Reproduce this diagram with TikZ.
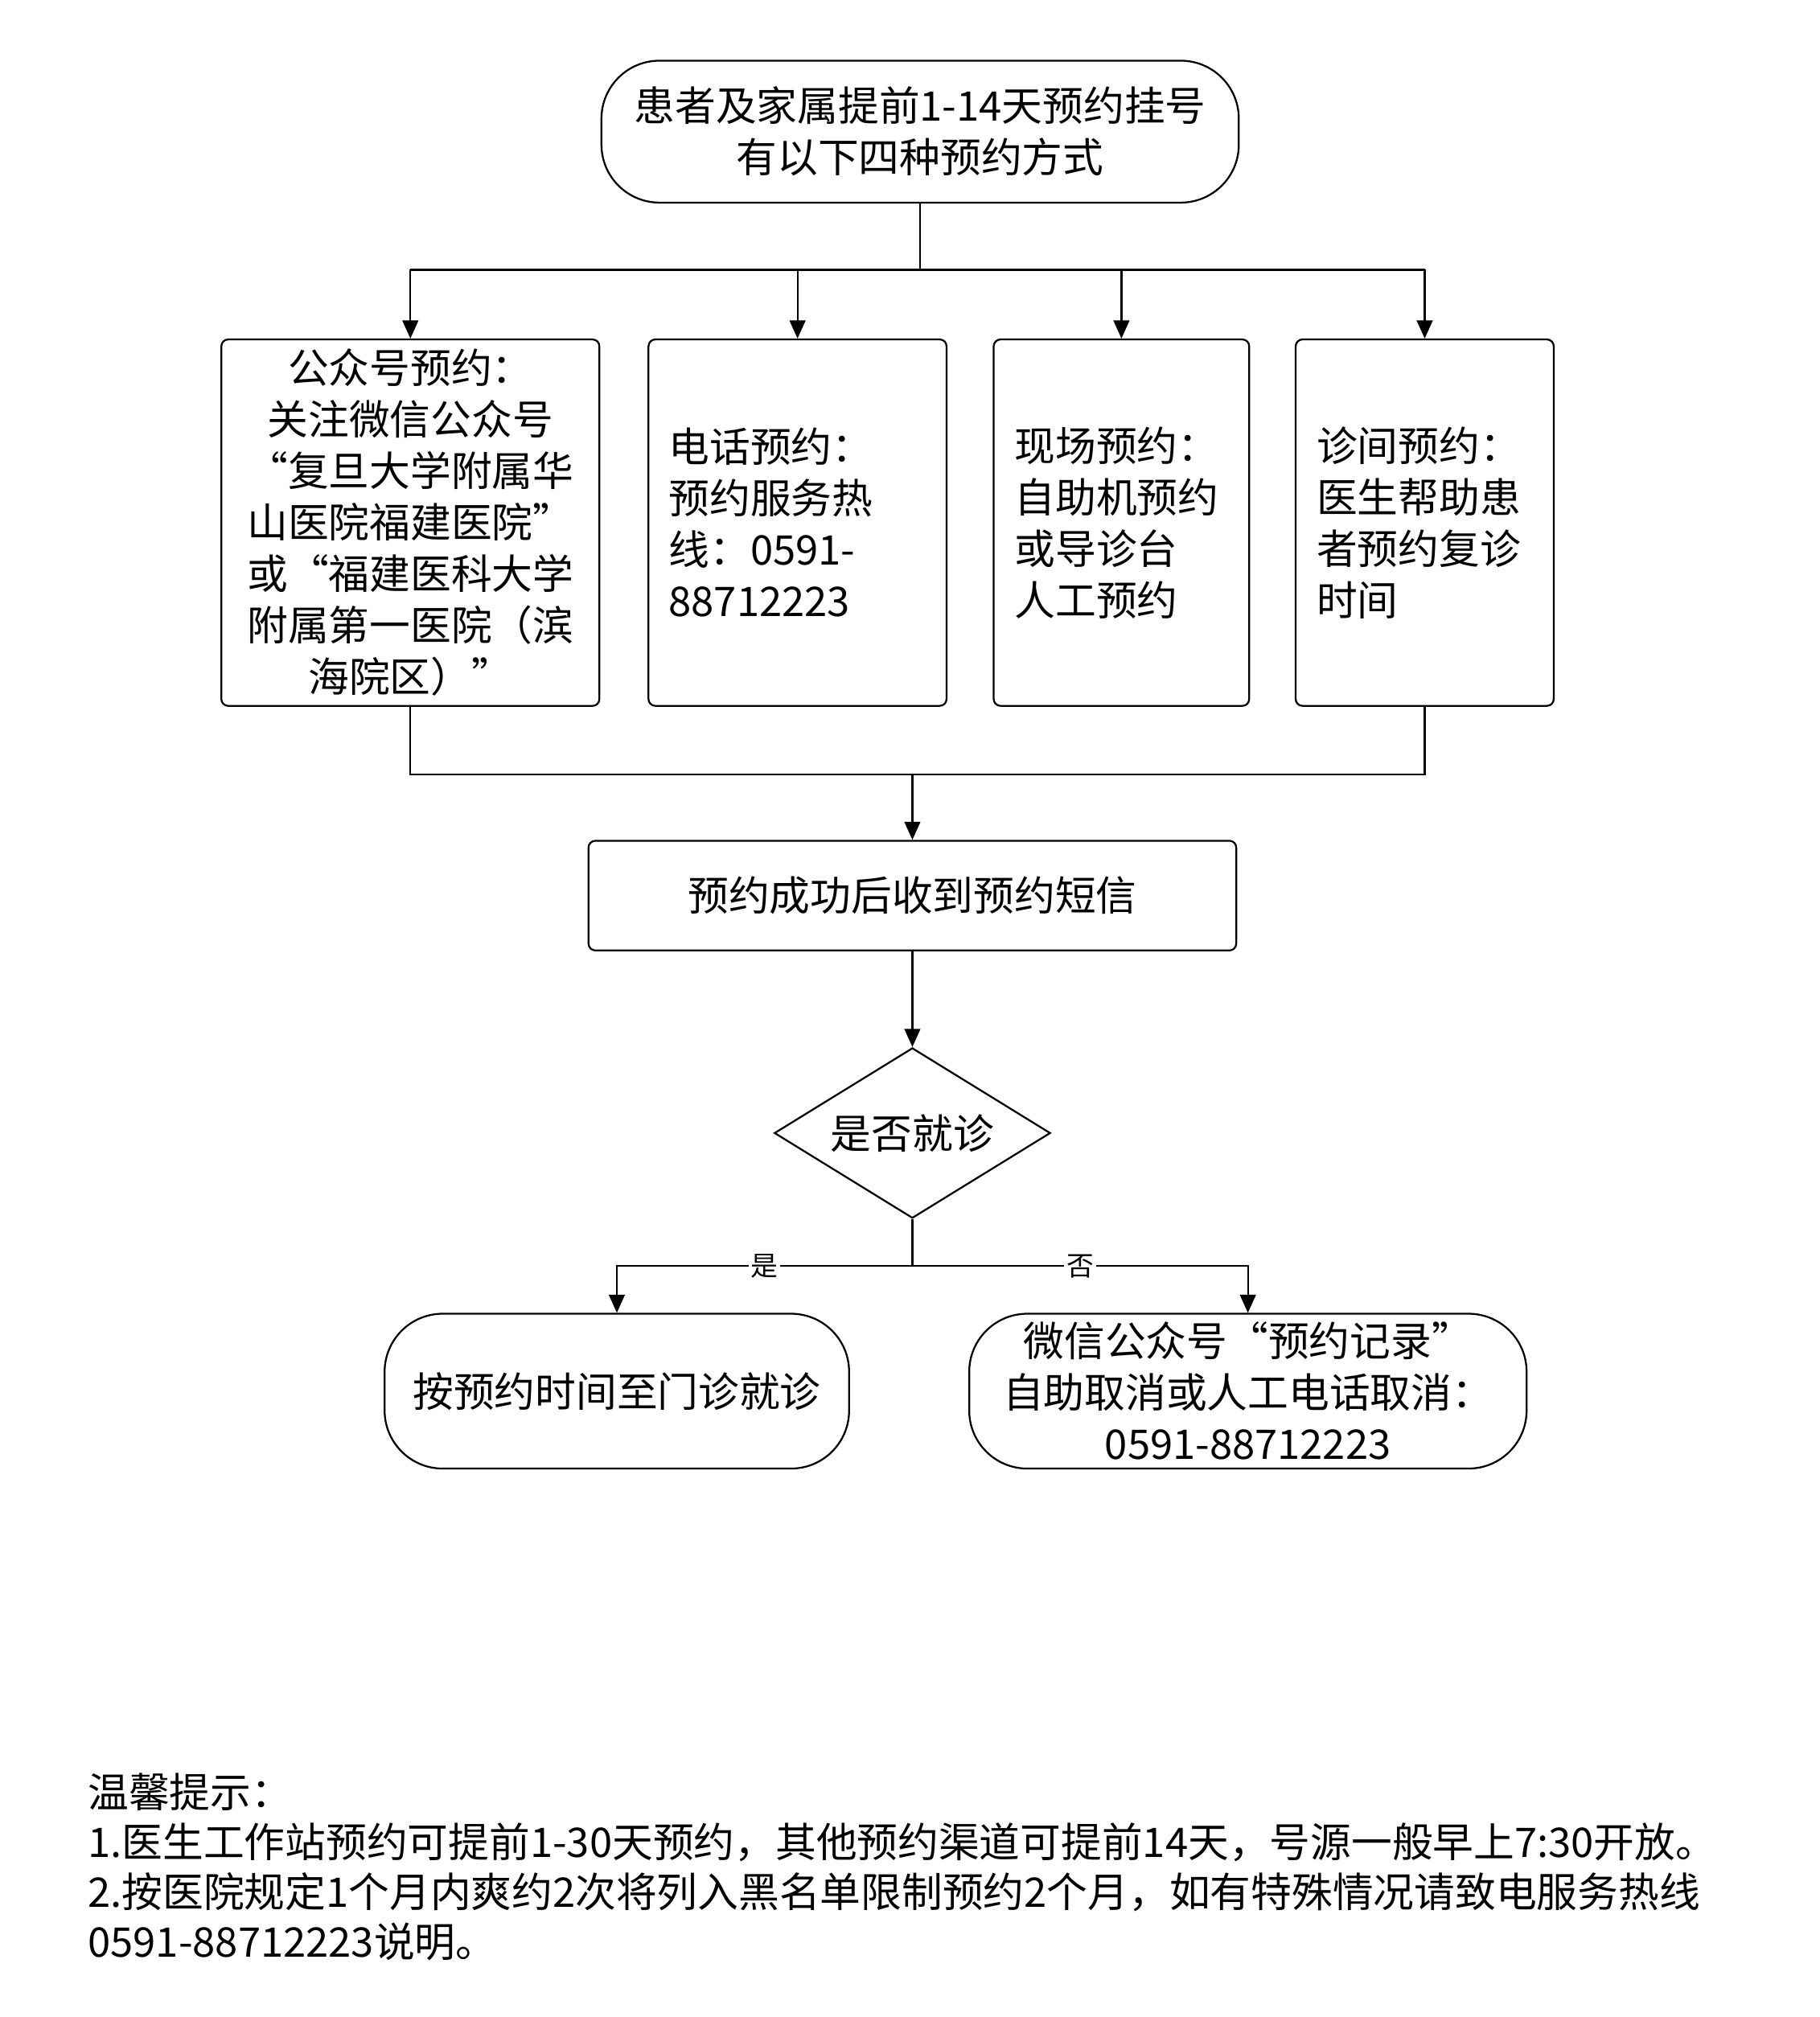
\documentclass[tikz,border=0pt]{standalone}
\usepackage{fontspec}
\setmainfont{Noto Sans CJK SC}
\usetikzlibrary{shapes.geometric,arrows.meta,positioning,calc}

\begin{document}
\begin{tikzpicture}[
    x=0.02cm, y=-0.02cm,
    box/.style={rectangle, draw, thick, rounded corners=3pt, font=\fontsize{18}{22.7}\selectfont, inner sep=0pt},
    term/.style={rectangle, draw, thick, rounded corners=0.9cm, font=\fontsize{18}{22.7}\selectfont, align=center, inner sep=0pt},
    decide/.style={diamond, draw, thick, aspect=1.6, font=\fontsize{18}{22.7}\selectfont, inner sep=0pt, minimum width=4.28cm, minimum height=2.64cm},
    arrow/.style={-{Triangle[length=8pt,width=7pt]}, thick},
    lab/.style={fill=white, inner sep=1pt, font=\fontsize{12}{14}\selectfont}
]
    \useasboundingbox (0,0) rectangle (1410,1563);

    % Start
    \node[term, minimum width=9.88cm, minimum height=2.2cm] (start) at (713,102) {患者及家属提前1-14天预约挂号\\有以下四种预约方式};

    % Four ways
    \node[box, minimum width=5.86cm, minimum height=5.68cm, align=center] (wx) at (318,405) {公众号预约：\\关注微信公众号\\“复旦大学附属华\\山医院福建医院”\\或“福建医科大学\\附属第一医院（滨\\海院区）”};
    \node[box, minimum width=4.62cm, minimum height=5.68cm] (tel) at (618,405) {};
    \node[box, minimum width=3.96cm, minimum height=5.68cm] (site) at (869,405) {};
    \node[box, minimum width=4.0cm, minimum height=5.68cm] (clinic) at (1104,405) {};
    \node[anchor=west, align=left, font=\fontsize{18}{22.7}\selectfont] (telt) at (512,405) {电话预约：\\预约服务热\\线：0591-\\88712223};
    \node[anchor=west, align=left, font=\fontsize{18}{22.7}\selectfont] (sitet) at (780,405) {现场预约：\\自助机预约\\或导诊台\\人工预约};
    \node[anchor=west, align=left, font=\fontsize{18}{22.7}\selectfont] (clinict) at (1014,405) {诊间预约：\\医生帮助患\\者预约复诊\\时间};

    % Result
    \node[box, minimum width=10.04cm, minimum height=1.7cm] (sms) at (707,694) {预约成功后收到预约短信};
    \node[decide] (visit) at (707,878) {是否就诊};
    \node[term, minimum width=7.2cm, minimum height=2.4cm] (go) at (478,1078) {按预约时间至门诊就诊};
    \node[term, minimum width=8.64cm, minimum height=2.4cm] (cancel) at (967,1078) {微信公众号“预约记录”\\自助取消或人工电话取消：\\0591-88712223};

    % Branch lines
    \coordinate (top) at (713,209);
    \coordinate (merge) at (707,600);
    \draw[thick] (start.south) -- (top);
    \draw[thick] (wx.north |- top) -- (clinic.north |- top);
    \foreach \n in {wx,tel,site,clinic}
        \draw[arrow] (\n.north |- top) -- (\n.north);
    \draw[thick] (wx.south) -- (wx.south |- merge) -- (clinic.south |- merge) -- (clinic.south);
    \draw[arrow] (merge) -- (sms.north);
    \draw[arrow] (sms.south) -- (visit.north);

    \coordinate (split) at (707,981);
    \draw[thick] (visit.south) -- (split);
    \draw[arrow] (split) -- (go.north |- split) node[lab, pos=0.5] {是} -- (go.north);
    \draw[arrow] (split) -- (cancel.north |- split) node[lab, pos=0.5] {否} -- (cancel.north);

    % Tips
    \node[anchor=north west, align=left, font=\fontsize{18}{22}\selectfont] (tips) at (62,1368) {温馨提示：\\1.医生工作站预约可提前1-30天预约，其他预约渠道可提前14天，号源一般早上7:30开放。\\2.按医院规定1个月内爽约2次将列入黑名单限制预约2个月，如有特殊情况请致电服务热线\\0591-88712223说明。};
\end{tikzpicture}
\end{document}
